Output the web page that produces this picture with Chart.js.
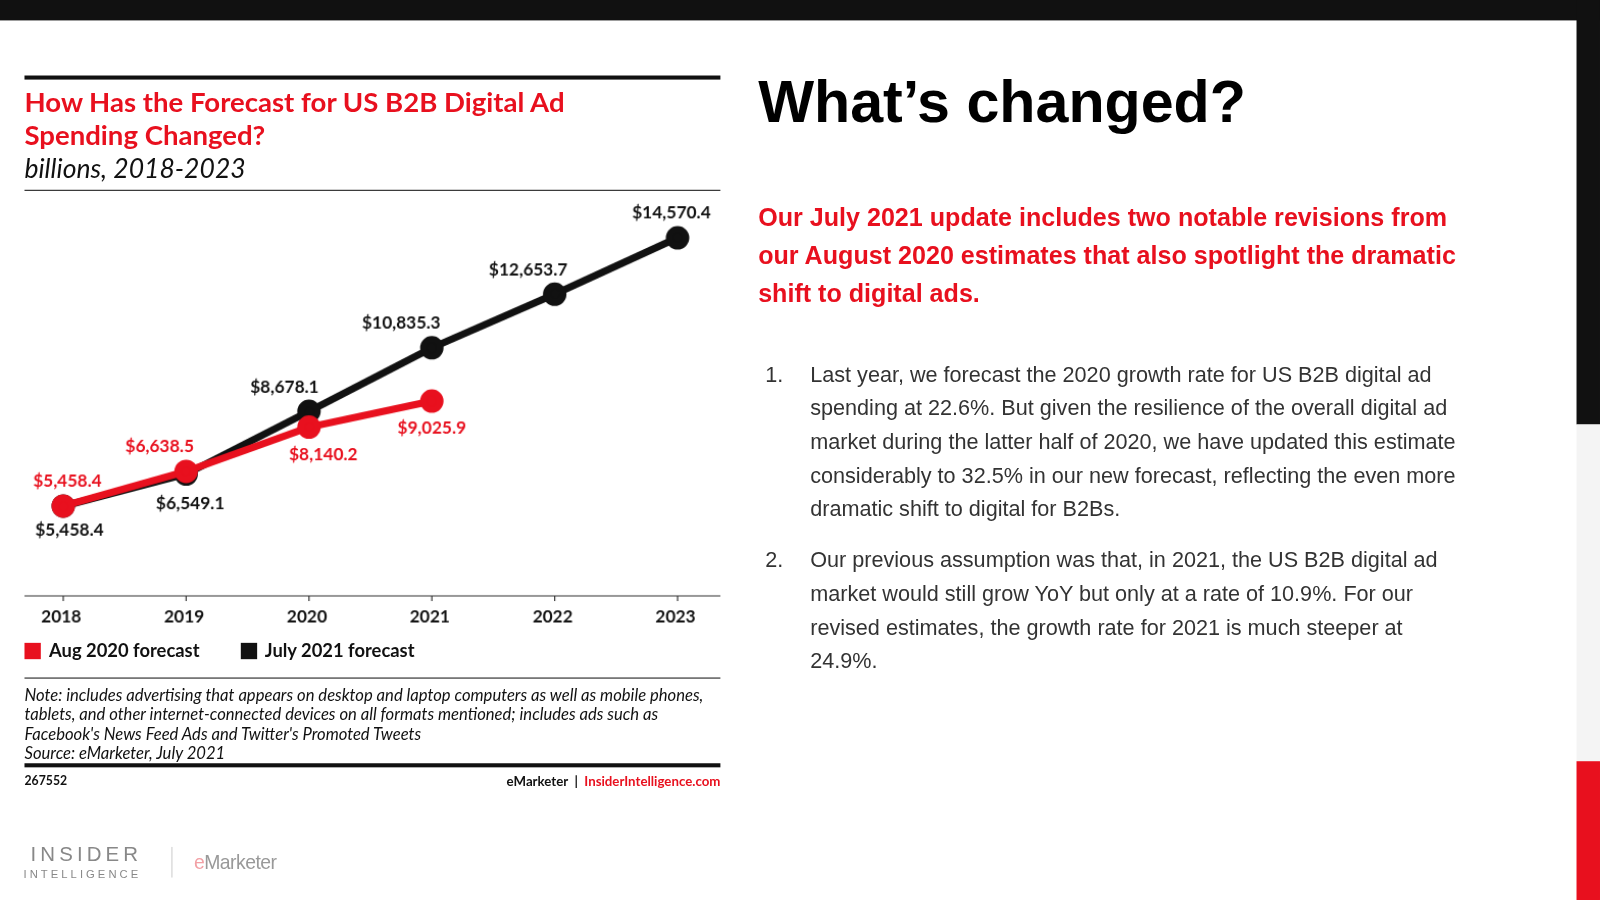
<!DOCTYPE html>
<html><head><meta charset="utf-8">
<script src="https://cdn.jsdelivr.net/npm/chart.js"></script>
<style>
body{margin:0;width:1600px;height:900px;overflow:hidden;background:#fff;font-family:Lato,"Liberation Sans",sans-serif}
#page{position:absolute;left:0;top:0;width:1568px;height:882px;transform:scale(1.0204);transform-origin:0 0}
.abs{position:absolute}
</style></head><body><div id="page">
<div class="abs" style="left:0;top:0;width:1568px;height:20px;background:#111"></div>
<div class="abs" style="left:1545px;top:0;width:23px;height:416px;background:#111"></div>
<div class="abs" style="left:1545px;top:416px;width:23px;height:330px;background:#f4f4f4"></div>
<div class="abs" style="left:1545px;top:746px;width:23px;height:136px;background:#e8101e"></div>

<div class="abs" style="left:24px;top:74px;width:682px;height:4px;background:#111"></div>
<div class="abs" style="left:24px;top:84px;width:620px;color:#e8101e;font-weight:bold;font-size:27px;line-height:32px">How Has the Forecast for US B2B Digital Ad Spending Changed?</div>
<div class="abs" style="left:24px;top:148px;font-style:italic;font-size:26px;color:#111">billions, 2018-2023</div>
<div class="abs" style="left:24px;top:186px;width:682px;height:1px;background:#111"></div>

<canvas id="c" class="abs" style="left:24px;top:190px;width:682px;height:430px"></canvas>

<div class="abs" style="left:24px;top:626px;font-size:18px;font-weight:bold;color:#111;display:flex;gap:40px;align-items:center">
<span><span style="display:inline-block;width:16px;height:16px;background:#e8101e;vertical-align:-2px;margin-right:8px"></span>Aug 2020 forecast</span>
<span><span style="display:inline-block;width:16px;height:16px;background:#111;vertical-align:-2px;margin-right:8px"></span>July 2021 forecast</span></div>
<div class="abs" style="left:24px;top:664px;width:682px;height:1px;background:#111"></div>
<div class="abs" style="left:24px;top:671px;width:690px;font-style:italic;font-size:16.3px;line-height:19px;color:#111">Note: includes advertising that appears on desktop and laptop computers as well as mobile phones, tablets, and other internet-connected devices on all formats mentioned; includes ads such as Facebook's News Feed Ads and Twitter's Promoted Tweets<br>Source: eMarketer, July 2021</div>
<div class="abs" style="left:24px;top:748px;width:682px;height:4px;background:#111"></div>
<div class="abs" style="left:24px;top:757px;font-size:12px;font-weight:bold;color:#111">267552</div>
<div class="abs" style="left:400px;width:306px;text-align:right;top:757px;font-size:13px;font-weight:bold;color:#111">eMarketer &nbsp;|&nbsp; <span style="color:#e8101e">InsiderIntelligence.com</span></div>

<div class="abs" style="left:30px;top:826px;font-family:'Liberation Sans';font-size:20px;letter-spacing:4px;color:#888">INSIDER</div>
<div class="abs" style="left:23px;top:850px;font-family:'Liberation Sans';font-size:11px;letter-spacing:3px;color:#888">INTELLIGENCE</div>
<div class="abs" style="left:168px;top:830px;width:1px;height:30px;background:#ccc"></div>
<div class="abs" style="left:190px;top:835px;font-family:'Liberation Sans';font-size:19px;color:#999;letter-spacing:-0.5px"><span style="color:#f2a0a5">e</span>Marketer</div>

<div class="abs" style="left:743px;top:66px;font-family:'Liberation Sans';font-weight:bold;font-size:58px;color:#000">What’s changed?</div>
<div class="abs" style="left:743px;top:194px;width:720px;font-family:'Liberation Sans';font-weight:bold;font-size:24.6px;line-height:37.5px;color:#e8101e">Our July 2021 update includes two notable revisions from our August 2020 estimates that also spotlight the dramatic shift to digital ads.</div>
<div class="abs" style="left:750px;top:350px;width:690px;font-family:'Liberation Sans';font-size:21.2px;line-height:33px;color:#333">
<div style="display:flex"><span style="width:44px">1.</span><span style="flex:1">Last year, we forecast the 2020 growth rate for US B2B digital ad spending at 22.6%. But given the resilience of the overall digital ad market during the latter half of 2020, we have updated this estimate considerably to 32.5% in our new forecast, reflecting the even more dramatic shift to digital for B2Bs.</span></div>
<div style="display:flex;margin-top:17px"><span style="width:44px">2.</span><span style="flex:1">Our previous assumption was that, in 2021, the US B2B digital ad market would still grow YoY but only at a rate of 10.9%. For our revised estimates, the growth rate for 2021 is much steeper at 24.9%.</span></div>
</div>
</div>
<script>
const years = ['2018','2019','2020','2021','2022','2023'];
const aug2020 = [5458.4, 6638.5, 8140.2, 9025.9, null, null];
const july2021 = [5458.4, 6549.1, 8678.1, 10835.3, 12653.7, 14570.4];
const augLabels = ['$5,458.4','$6,638.5','$8,140.2','$9,025.9'];
const julyLabels = ['$5,458.4','$6,549.1','$8,678.1','$10,835.3','$12,653.7','$14,570.4'];
// label offsets [dx, dy] relative to point
const augOff = [[4,-24],[-26,-24],[14,27],[0,26]];
const julyOff = [[6,24],[4,29],[-24,-24],[-30,-24],[-26,-24],[-6,-24]];

const labelPlugin = {
  id: 'labels',
  afterDatasetsDraw(chart) {
    const ctx = chart.ctx, ca = chart.chartArea, x = chart.scales.x;
    ctx.save();
    ctx.strokeStyle = '#333'; ctx.lineWidth = 1.2;
    ctx.beginPath(); ctx.moveTo(0, ca.bottom); ctx.lineTo(chart.width, ca.bottom); ctx.stroke();
    ctx.font = 'bold 17px Lato, sans-serif'; ctx.textAlign = 'center'; ctx.textBaseline = 'middle';
    ctx.fillStyle = '#111';
    years.forEach((y, i) => {
      const px = x.getPixelForValue(i);
      ctx.beginPath(); ctx.moveTo(px, ca.bottom); ctx.lineTo(px, ca.bottom + 5); ctx.stroke();
      ctx.fillText(y, px - 2, ca.bottom + 21);
    });
    [[1, julyLabels, julyOff, '#111'], [0, augLabels, augOff, '#e8101e']].forEach(([d, labs, off, col]) => {
      const meta = chart.getDatasetMeta(d);
      ctx.fillStyle = col;
      labs.forEach((t, i) => {
        const p = meta.data[i];
        ctx.fillText(t, p.x + off[i][0], p.y + off[i][1]);
      });
    });
    ctx.restore();
  }
};

new Chart(document.getElementById('c'), {
  type: 'line',
  data: {
    labels: years,
    datasets: [
      { label: 'Aug 2020 forecast', data: aug2020, borderColor: '#e8101e', backgroundColor: '#e8101e', borderWidth: 7, pointRadius: 8, pointHoverRadius: 8, order: 0 },
      { label: 'July 2021 forecast', data: july2021, borderColor: '#111', backgroundColor: '#111', borderWidth: 7, pointRadius: 8, pointHoverRadius: 8, order: 1 }
    ]
  },
  options: {
    responsive: false, animation: false,
    layout: { padding: { left: 38, right: 42, top: 0, bottom: 36 } },
    plugins: { legend: { display: false }, tooltip: { enabled: false } },
    scales: {
      x: { display: false, offset: false },
      y: { display: false, min: 2409, max: 15541 }
    }
  },
  plugins: [labelPlugin]
});
</script>
</body></html>
